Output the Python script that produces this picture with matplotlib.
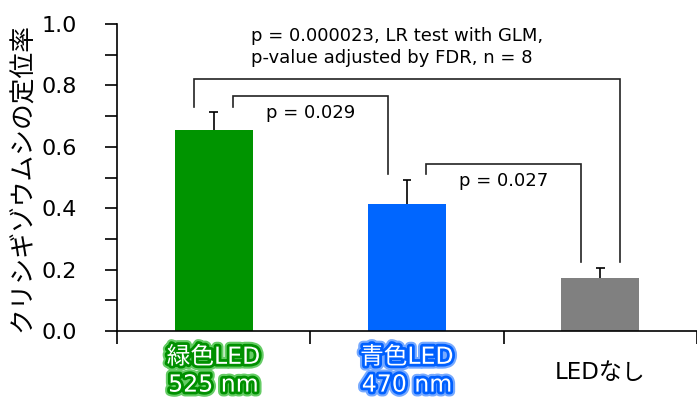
import matplotlib
matplotlib.use("Agg")
import matplotlib.pyplot as plt
import matplotlib.patheffects as pe

plt.rcParams["font.family"] = ["DejaVu Sans", "Noto Sans CJK JP"]

labels = ["緑色LED\n525 nm", "青色LED\n470 nm", "LEDなし"]
means = [0.655, 0.414, 0.173]
errs = [0.058, 0.078, 0.032]
colors = ["#009400", "#0066ff", "#808080"]
glow = [("#009000", "#66cc66"), ("#0060ff", "#77aaff"), None]

# brackets: (x_left, x_right, y_bar, y_left_end, y_right_end)
brackets = [
    (-0.1, 2.1, 0.821, 0.73, 0.225),
    (0.1, 0.9, 0.765, 0.73, 0.511),
    (1.1, 1.9, 0.544, 0.511, 0.225),
]
pair_labels = ["p = 0.029", "p = 0.027"]
main_label = "p = 0.000023, LR test with GLM,\np-value adjusted by FDR, n = 8"

fig = plt.figure(figsize=(6.97, 3.99), dpi=100)
ax = fig.add_axes([117 / 697, 68 / 399, 580 / 697, 307 / 399])

x = list(range(len(means)))
tops = [m + e for m, e in zip(means, errs)]
ax.bar(x, means, width=0.405, color=colors, zorder=2)
# upper-only error bars
ax.vlines(x, means, tops, color="black", lw=1.2, zorder=3)
ax.hlines(tops, [i - 0.022 for i in x], [i + 0.022 for i in x],
          color="black", lw=1.2, zorder=3)

for xl, xr, yb, yl, yr in brackets:
    ax.plot([xl, xl, xr, xr], [yl, yb, yb, yr], color="#222222", lw=1.2,
            solid_joinstyle="miter", clip_on=False)

ax.text(0.5, 0.71, pair_labels[0], ha="center", va="center", fontsize=13)
ax.text(1.5, 0.49, pair_labels[1], ha="center", va="center", fontsize=13)
ax.text(0.195, 0.925, main_label, ha="left", va="center", fontsize=13,
        linespacing=1.3)

ax.set_xlim(-0.5, 2.47)
ax.set_ylim(0, 1.0)
ax.set_yticks([0, 0.2, 0.4, 0.6, 0.8, 1.0])
ax.set_yticklabels(["0.0", "0.2", "0.4", "0.6", "0.8", "1.0"], fontsize=16)
ax.set_yticks([0.1, 0.3, 0.5, 0.7, 0.9], minor=True)
ax.tick_params(axis="y", which="both", direction="out", length=9, width=1.2,
               pad=20)
ax.set_xticks([-0.5, 0.5, 1.5, 2.5])
ax.set_xticklabels([])
ax.tick_params(axis="x", which="major", direction="out", length=9, width=1.2)
for s in ("top", "right"):
    ax.spines[s].set_visible(False)
for s in ("left", "bottom"):
    ax.spines[s].set_linewidth(1.2)

for i, (lab, g) in enumerate(zip(labels, glow)):
    if g:
        ax.text(i, -0.045, lab, ha="center", va="top", fontsize=17,
                color="white", linespacing=1.2,
                path_effects=[pe.withStroke(linewidth=7, foreground=g[1]),
                              pe.withStroke(linewidth=4, foreground=g[0])])
    else:
        ax.text(i, -0.135, lab, ha="center", va="center", fontsize=16.5,
                color="black")

ax.set_ylabel("クリシギゾウムシの定位率", fontsize=18.5,
              family=["Noto Sans CJK JP", "DejaVu Sans"], labelpad=4)

fig.savefig("out.png", dpi=100)
